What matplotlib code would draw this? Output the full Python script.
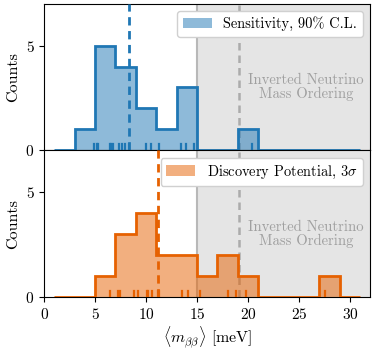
import numpy as np
import matplotlib
matplotlib.use("Agg")
import matplotlib.pyplot as plt

sensitivity = [4.85, 5.18, 5.25, 6.49, 6.55, 6.75, 7.34, 7.6, 7.96, 8.3,
               10.03, 10.52, 11.3, 13.47, 13.96, 14.75, 20.4]
discovery = [6.49, 7.21, 7.4, 8.82, 9.21, 10.05, 10.2, 10.55, 11.2, 11.3,
             13.54, 14.13, 15.27, 18.06, 18.85, 19.76, 27.6]

sens_line = 8.35          # dashed line, top panel
disc_line = float(np.median(discovery))
io_start = 15.0           # inverted ordering band starts
io_dashed = 19.1
bin_edges = np.arange(1, 33, 2)

labels = ["Sensitivity, 90% C.L.", r"Discovery Potential, 3$\sigma$"]
colors = ["#1f77b4", "#e66101"]

plt.rcParams["font.family"] = "serif"
plt.rcParams["font.serif"] = ["cmr10"]
plt.rcParams["mathtext.fontset"] = "cm"
plt.rcParams["axes.formatter.use_mathtext"] = True
plt.rcParams["font.size"] = 11


def draw_panel(ax, values, line_x, color, label):
    # inverted ordering band
    ax.axvspan(io_start, 32, color="grey", alpha=0.2, lw=0, zorder=0)
    ax.axvline(io_start, color="#b8b8b8", lw=1.5, zorder=1)
    ax.axvline(io_dashed, color="#ababab", lw=1.8, ls=(0, (3, 2)), zorder=1)
    ax.text(25.7, 3.0, "Inverted Neutrino\nMass Ordering", color="#a0a0a0",
            ha="center", va="center", fontsize=10.6, linespacing=1.0)

    ax.hist(values, bins=bin_edges, histtype="stepfilled", color=color,
            alpha=0.5, zorder=2, label=label)
    ax.hist(values, bins=bin_edges, histtype="step", color=color, lw=2, zorder=3)

    # rug
    for v in values:
        ax.axvline(v, ymin=0, ymax=0.045, color=color, lw=1.6, zorder=3)
    ax.axvline(line_x, color=color, lw=2, ls=(0, (3, 2)), zorder=4)

    ax.set_xlim(0, 32)
    ax.set_ylim(0, 7)
    ax.set_yticks([0, 5])
    ax.set_ylabel("Counts", fontsize=11.5)
    ax.legend(loc="upper right", handlelength=2.0, borderpad=0.4,
              fontsize=10.4, framealpha=1.0, edgecolor="#d0d0d0")


fig, (ax1, ax2) = plt.subplots(2, 1, sharex=True, figsize=(3.74, 3.52), dpi=100)
fig.subplots_adjust(left=0.118, right=0.99, top=0.99, bottom=0.155, hspace=0)

draw_panel(ax1, sensitivity, sens_line, colors[0], labels[0])
draw_panel(ax2, discovery, disc_line, colors[1], labels[1])

ax1.tick_params(axis="x", bottom=False, labelbottom=False)
ax2.set_xticks(np.arange(0, 31, 5))
ax2.set_xlabel(r"$\langle m_{\beta\beta}\rangle$ [meV]", fontsize=11.5, labelpad=2)

fig.savefig("out.png", dpi=100)
